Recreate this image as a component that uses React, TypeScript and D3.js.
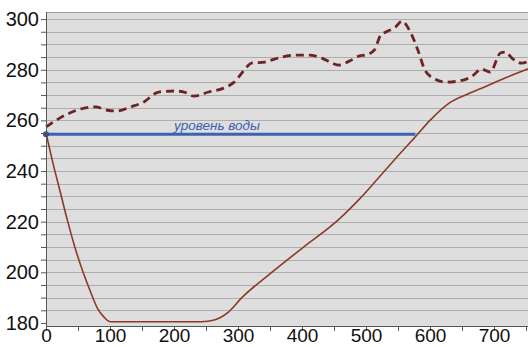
import React, { useEffect, useRef } from "react"
import * as d3 from "d3"

const W = 528
const H = 347
const PLOT = { left: 46, right: 529, top: 12, bottom: 326 }

// ground profile (solid)
const groundX = [0, 10, 22, 33, 45, 58, 70, 80, 90, 100, 243, 263, 285, 306, 348, 400, 458, 490, 522, 550, 577, 600, 631, 660, 688, 720, 760]
const groundY = [255, 244, 232, 221, 210, 200, 192, 186, 182.5, 180.5, 180.5, 181.2, 184.3, 190, 199, 209.5, 221, 229, 238, 246, 253.5, 260, 267, 270.5, 273.5, 277, 281]

// surface before (dashed)
const surfX = [0, 22, 38, 54, 77, 96, 112, 132, 153, 176, 200, 216, 231, 254, 282, 294, 310, 321, 342, 357, 389, 411, 431, 447, 458, 474, 490, 499, 513, 523, 531, 546, 556, 570, 581, 592, 605, 625, 652, 668, 680, 694, 710, 718, 728, 743, 757]
const surfY = [257.4, 261, 263, 264.5, 265.3, 264, 263.7, 265.3, 267.3, 271.2, 271.6, 271.2, 269.6, 271.2, 273.2, 275.1, 279.9, 282.6, 283, 284.2, 285.8, 285.8, 284.6, 282.6, 281.8, 283.4, 285.5, 285.8, 287.8, 293.7, 294.9, 296.8, 299.2, 294.5, 287.8, 279.9, 276.7, 275.1, 275.9, 277.9, 280.3, 279.1, 286.6, 287, 284.6, 282.6, 283.8]

// water level
const waterLevel = 254.5
const waterRange = [0, 577]
const waterLabel = "уровень воды"

const yTicks = d3.range(180, 301, 5)
const xTicks = d3.range(0, 751, 50)

export default function App() {
  const svgRef = useRef<SVGSVGElement | null>(null)

  useEffect(() => {
    const svg = d3.select(svgRef.current)
    svg.selectAll("*").remove()

    const x = d3.scaleLinear().domain([0, 755]).range([PLOT.left, PLOT.left + 755 * 0.64])
    const y = d3.scaleLinear().domain([178.8, 302.8]).range([PLOT.bottom, PLOT.top])

    svg
      .append("rect")
      .attr("x", PLOT.left)
      .attr("y", PLOT.top)
      .attr("width", W - PLOT.left)
      .attr("height", PLOT.bottom - PLOT.top)
      .attr("fill", "#dedede")

    // horizontal grid every 5
    svg
      .append("g")
      .selectAll("line")
      .data(yTicks.filter(v => v > 180))
      .join("line")
      .attr("x1", PLOT.left)
      .attr("x2", W)
      .attr("y1", d => Math.round(y(d)) + 0.5)
      .attr("y2", d => Math.round(y(d)) + 0.5)
      .attr("stroke", "#adadad")
      .attr("stroke-width", 1)

    svg
      .append("line")
      .attr("x1", PLOT.left)
      .attr("x2", W)
      .attr("y1", PLOT.top + 0.5)
      .attr("y2", PLOT.top + 0.5)
      .attr("stroke", "#9a9a9a")

    const clip = svg.append("clipPath").attr("id", "plotclip")
    clip
      .append("rect")
      .attr("x", PLOT.left - 4)
      .attr("y", PLOT.top)
      .attr("width", W)
      .attr("height", PLOT.bottom - PLOT.top)

    const g = svg.append("g").attr("clip-path", "url(#plotclip)")

    const line = d3
      .line<number[]>()
      .x(p => x(p[0]))
      .y(p => y(p[1]))
      .curve(d3.curveMonotoneX)

    const ground = groundX.map((v, i) => [v, groundY[i]])
    const surf = surfX.map((v, i) => [v, surfY[i]])

    g.append("path")
      .attr("d", line(ground))
      .attr("fill", "none")
      .attr("stroke", "#8c3a28")
      .attr("stroke-width", 1.6)

    g.append("path")
      .attr("d", line(surf))
      .attr("fill", "none")
      .attr("stroke", "#6e2324")
      .attr("stroke-width", 2.8)
      .attr("stroke-dasharray", "8,5")

    g.append("line")
      .attr("x1", x(waterRange[0]))
      .attr("x2", x(waterRange[1]))
      .attr("y1", y(waterLevel))
      .attr("y2", y(waterLevel))
      .attr("stroke", "#3c62b6")
      .attr("stroke-width", 3)

    g.append("circle")
      .attr("cx", x(0))
      .attr("cy", y(waterLevel))
      .attr("r", 3)
      .attr("fill", "#3a4f86")

    svg
      .append("text")
      .attr("x", 217)
      .attr("y", 130)
      .attr("text-anchor", "middle")
      .attr("font-family", "Liberation Sans, sans-serif")
      .attr("font-style", "italic")
      .attr("font-size", 13.5)
      .attr("fill", "#3d5fae")
      .text(waterLabel)

    const yAxis = d3
      .axisLeft(y)
      .tickValues(yTicks)
      .tickSize(5)
      .tickSizeOuter(0)
      .tickPadding(2)
      .tickFormat(d => ((d as number) % 20 === 0 ? String(d) : ""))

    const ya = svg.append("g").attr("transform", `translate(${PLOT.left},0)`).call(yAxis)
    ya.select(".domain").attr("stroke", "#555").attr("d", `M0.5,${PLOT.top}V${PLOT.bottom}`)
    ya.selectAll(".tick line").attr("stroke", "#555")
    ya.selectAll(".tick text")
      .attr("font-family", "Liberation Sans, sans-serif")
      .attr("font-size", 20)
      .attr("fill", "#111")

    const xAxis = d3
      .axisBottom(x)
      .tickValues(xTicks)
      .tickSize(5)
      .tickSizeOuter(0)
      .tickFormat(d => ((d as number) % 100 === 0 ? String(d) : ""))

    const xa = svg.append("g").attr("transform", `translate(0,${PLOT.bottom})`).call(xAxis)
    xa.select(".domain").attr("stroke", "#555").attr("d", `M${PLOT.left},0.5H${W}`)
    xa.selectAll(".tick line").attr("stroke", "#555")
    xa.selectAll(".tick text")
      .attr("y", 2)
      .attr("font-family", "Liberation Sans, sans-serif")
      .attr("font-size", 19)
      .attr("fill", "#111")
  }, [])

  return (
    <svg
      ref={svgRef}
      width={W}
      height={H}
      style={{ position: "absolute", left: 0, top: 0, background: "#fff" }}
    />
  )
}
